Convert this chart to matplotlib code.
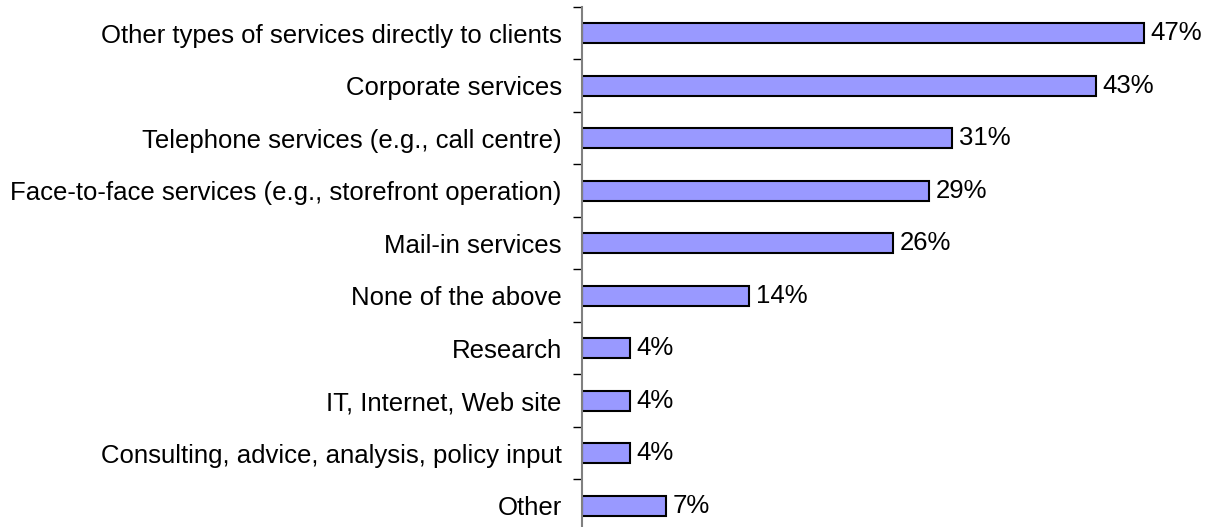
import numpy as np
import matplotlib.pyplot as plt

# survey results: share of respondents by service type (%)
categories = [
    "Other types of services directly to clients",
    "Corporate services",
    "Telephone services (e.g., call centre)",
    "Face-to-face services (e.g., storefront operation)",
    "Mail-in services",
    "None of the above",
    "Research",
    "IT, Internet, Web site",
    "Consulting, advice, analysis, policy input",
    "Other",
]
values = [47, 43, 31, 29, 26, 14, 4, 4, 4, 7]

plt.rcParams['font.family'] = ['Liberation Sans', 'DejaVu Sans']

W, H = 1212, 527
fig = plt.figure(figsize=(W / 100, H / 100), dpi=100)

# axes placed in pixel terms: spine at x=582, category band 52.5 px tall
left_px, top_px, step_px = 582, 7, 52.5
n = len(categories)
ax_h = n * step_px
ax = fig.add_axes([left_px / W, (H - top_px - ax_h) / H, (W - left_px) / W, ax_h / H])

px_per_pct = 11.95
ax.set_xlim(0, (W - left_px) / px_per_pct)
ax.set_ylim(n - 0.5, -0.5)

pos = np.arange(n)
ax.barh(pos, values, height=0.39, color='#9999ff', edgecolor='black', linewidth=1.5)

for p, v in zip(pos, values):
    ax.annotate(f"{v}%", xy=(v, p), xytext=(5, 0), textcoords='offset points',
                va='center', ha='left', fontsize=18.5)

# labels at bar centres, tick marks on the category boundaries
ax.set_yticks(pos)
ax.set_yticklabels(categories, fontsize=18.5)
ax.tick_params(axis='y', which='major', length=0, pad=14.5)
ax.set_yticks(np.arange(-0.5, n, 1.0), minor=True)
ax.tick_params(axis='y', which='minor', length=6.5, width=1, color='black')

ax.set_xticks([])
for s in ['top', 'right', 'bottom']:
    ax.spines[s].set_visible(False)
ax.spines['left'].set_color('#808080')
ax.spines['left'].set_linewidth(1.5)

fig.savefig('out.png', dpi=100)
